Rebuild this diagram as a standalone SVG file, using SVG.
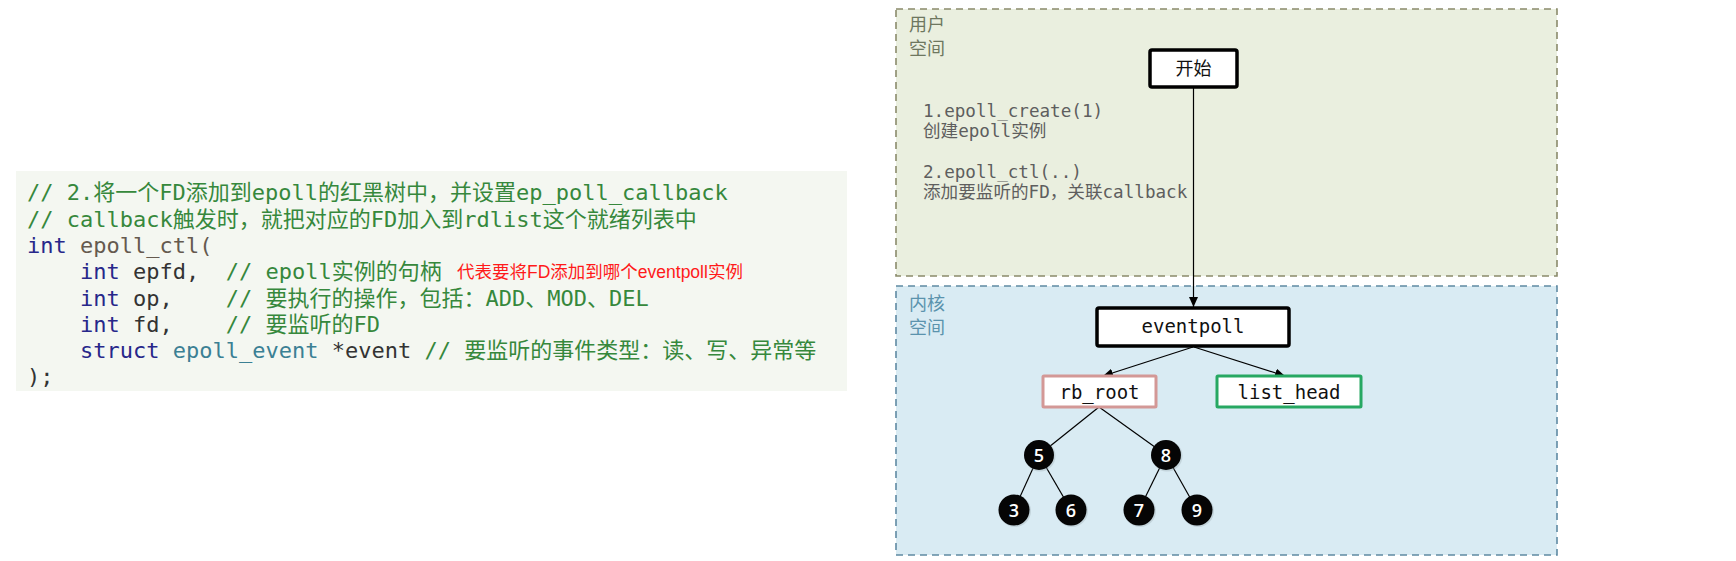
<svg xmlns="http://www.w3.org/2000/svg" width="1736" height="561" viewBox="0 0 1736 561">
  <defs>
    <style>
      .code { font-family: "DejaVu Sans Mono", "Noto Sans CJK SC", monospace; font-size: 22px; white-space: pre; }
      .cm { fill: #36883c; }
      .kw { fill: #27278a; }
      .fn { fill: #655a4f; }
      .ty { fill: #3b8094; }
      .tx { fill: #333333; }
      .note { font-family: "Liberation Sans", "Noto Sans CJK SC", sans-serif; font-size: 17.5px; fill: #ff1a1a; }
      .area-label { font-family: "Noto Sans CJK SC", sans-serif; font-size: 18px; }
      .mono { font-family: "DejaVu Sans Mono", "Noto Sans CJK SC", monospace; }
      .step { font-size: 17.6px; fill: #5e5e5e; }
      .box { fill: #ffffff; stroke: #000000; stroke-width: 3.5; }
      .boxlabel { font-size: 19px; fill: #111111; text-anchor: middle; }
      .edge { stroke: #000000; stroke-width: 1.2; fill: none; }
      .circ { fill: #050505; }
      .shadow { fill: #9aa9b0; opacity: 0.35; }
      .num { font-family: "Open Sans", "Liberation Sans", sans-serif; font-weight: 600; font-size: 18px; fill: #ffffff; text-anchor: middle; }
    </style>
    <marker id="arrow" markerUnits="userSpaceOnUse" markerWidth="11" markerHeight="10" refX="10" refY="4.5" orient="auto">
      <path d="M0,0 L10,4.5 L0,9 z" fill="#000000"/>
    </marker>
  </defs>

  <rect x="0" y="0" width="1736" height="561" fill="#ffffff"/>

  <!-- Code block -->
  <g id="code">
    <rect x="16" y="171" width="831" height="220" fill="#f4f7f1"/>
    <text class="code" xml:space="preserve" x="27" y="200"><tspan class="cm">// 2.将一个FD添加到epoll的红黑树中，并设置ep_poll_callback</tspan></text>
    <text class="code" xml:space="preserve" x="27" y="226.5"><tspan class="cm">// callback触发时，就把对应的FD加入到rdlist这个就绪列表中</tspan></text>
    <text class="code" xml:space="preserve" x="27" y="253"><tspan class="kw">int</tspan><tspan class="tx"> </tspan><tspan class="fn">epoll_ctl(</tspan></text>
    <text class="code" xml:space="preserve" x="27" y="279"><tspan class="tx">    </tspan><tspan class="kw">int</tspan><tspan class="tx"> epfd,  </tspan><tspan class="cm">// epoll实例的句柄</tspan></text>
    <text class="note" x="457" y="278">代表要将FD添加到哪个eventpoll实例</text>
    <text class="code" xml:space="preserve" x="27" y="305.5"><tspan class="tx">    </tspan><tspan class="kw">int</tspan><tspan class="tx"> op,    </tspan><tspan class="cm">// 要执行的操作，包括：ADD、MOD、DEL</tspan></text>
    <text class="code" xml:space="preserve" x="27" y="331.8"><tspan class="tx">    </tspan><tspan class="kw">int</tspan><tspan class="tx"> fd,    </tspan><tspan class="cm">// 要监听的FD</tspan></text>
    <text class="code" xml:space="preserve" x="27" y="358"><tspan class="tx">    </tspan><tspan class="kw">struct</tspan><tspan class="tx"> </tspan><tspan class="ty">epoll_event</tspan><tspan class="tx"> *event </tspan><tspan class="cm">// 要监听的事件类型：读、写、异常等</tspan></text>
    <text class="code" xml:space="preserve" x="27" y="384"><tspan class="tx">);</tspan></text>
  </g>

  <!-- User space area -->
  <g id="user-space">
    <rect x="896" y="9" width="661" height="267" fill="#eaefdf" stroke="#8b8b6b" stroke-width="1.6" stroke-dasharray="7,5"/>
    <text class="area-label" x="909" y="31" fill="#6e775f">用户</text>
    <text class="area-label" x="909" y="55" fill="#6e775f">空间</text>
    <text class="mono step" x="923" y="117">1.epoll_create(1)</text>
    <text class="mono step" x="923" y="137">创建epoll实例</text>
    <text class="mono step" x="923" y="178">2.epoll_ctl(..)</text>
    <text class="mono step" x="923" y="197.5">添加要监听的FD，关联callback</text>
  </g>

  <!-- Kernel space area -->
  <g id="kernel-space">
    <rect x="896" y="286" width="661" height="269" fill="#d9ebf3" stroke="#5f8aa3" stroke-width="1.6" stroke-dasharray="7,5"/>
    <text class="area-label" x="909" y="310" fill="#5b93ad">内核</text>
    <text class="area-label" x="909" y="334" fill="#5b93ad">空间</text>
  </g>

  <!-- Connectors -->
  <g id="connectors">
    <line class="edge" x1="1193.5" y1="87" x2="1193.5" y2="307" marker-end="url(#arrow)"/>
    <line class="edge" x1="1193" y1="347" x2="1103" y2="376" marker-end="url(#arrow)"/>
    <line class="edge" x1="1194" y1="347" x2="1285" y2="376" marker-end="url(#arrow)"/>
    <line class="edge" x1="1099" y1="407" x2="1039" y2="455"/>
    <line class="edge" x1="1099" y1="407" x2="1166" y2="455"/>
    <line class="edge" x1="1039" y1="455" x2="1014" y2="510"/>
    <line class="edge" x1="1039" y1="455" x2="1071" y2="510"/>
    <line class="edge" x1="1166" y1="455" x2="1139" y2="510"/>
    <line class="edge" x1="1166" y1="455" x2="1197" y2="510"/>
  </g>

  <!-- Nodes -->
  <g id="node-start">
    <rect class="box" x="1150" y="50" width="87" height="37" rx="2"/>
    <text x="1193.5" y="75" text-anchor="middle" font-family="Noto Sans CJK SC, sans-serif" font-size="18" fill="#111111">开始</text>
  </g>
  <g id="node-eventpoll">
    <rect class="box" x="1097" y="308" width="192" height="38" rx="2"/>
    <text class="mono boxlabel" x="1193" y="333">eventpoll</text>
  </g>
  <g id="node-rb-root">
    <rect x="1043" y="376" width="113" height="31" fill="#ffffff" stroke="#d39896" stroke-width="3" rx="1"/>
    <text class="mono boxlabel" x="1099.5" y="398.5">rb_root</text>
  </g>
  <g id="node-list-head">
    <rect x="1217" y="376" width="144" height="31" fill="#ffffff" stroke="#27a862" stroke-width="3" rx="1"/>
    <text class="mono boxlabel" x="1289" y="398.5">list_head</text>
  </g>
  <g id="node-5">
    <circle class="shadow" cx="1040" cy="456" r="15.5"/>
    <circle class="circ" cx="1039" cy="455" r="15"/>
    <text class="num" x="1039" y="461.5">5</text>
  </g>
  <g id="node-8">
    <circle class="shadow" cx="1167" cy="456" r="15.5"/>
    <circle class="circ" cx="1166" cy="455" r="15"/>
    <text class="num" x="1166" y="461.5">8</text>
  </g>
  <g id="node-3">
    <circle class="shadow" cx="1015" cy="511" r="16"/>
    <circle class="circ" cx="1014" cy="510" r="15.5"/>
    <text class="num" x="1014" y="516.5">3</text>
  </g>
  <g id="node-6">
    <circle class="shadow" cx="1072" cy="511" r="16"/>
    <circle class="circ" cx="1071" cy="510" r="15.5"/>
    <text class="num" x="1071" y="516.5">6</text>
  </g>
  <g id="node-7">
    <circle class="shadow" cx="1140" cy="511" r="16"/>
    <circle class="circ" cx="1139" cy="510" r="15.5"/>
    <text class="num" x="1139" y="516.5">7</text>
  </g>
  <g id="node-9">
    <circle class="shadow" cx="1198" cy="511" r="16"/>
    <circle class="circ" cx="1197" cy="510" r="15.5"/>
    <text class="num" x="1197" y="516.5">9</text>
  </g>
</svg>
